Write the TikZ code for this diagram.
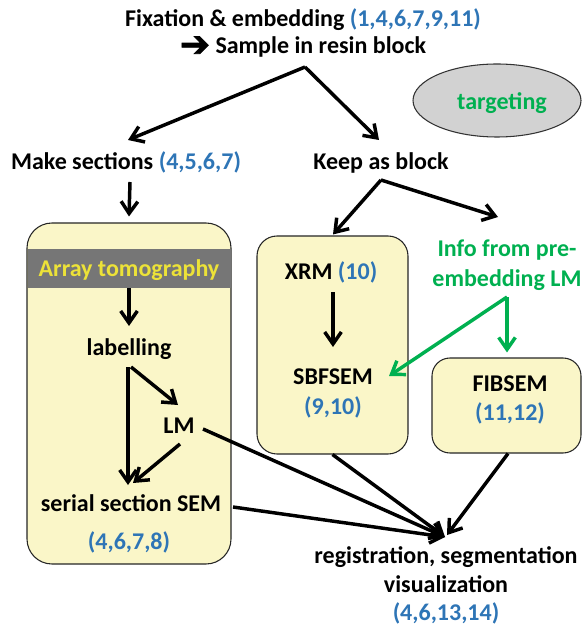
\documentclass[tikz,border=0pt]{standalone}
\usepackage{fontspec}
\setmainfont{Carlito}
\newfontfamily\symfont{DejaVu Sans}[FakeBold=2]
\usetikzlibrary{arrows.meta,shapes.geometric,calc}
\definecolor{blu}{RGB}{46,117,182}
\definecolor{grn}{RGB}{0,176,80}
\definecolor{yfill}{RGB}{250,246,200}
\definecolor{bandgray}{RGB}{118,118,118}
\definecolor{ytxt}{RGB}{236,226,56}
\definecolor{ellgray}{RGB}{210,210,210}
\begin{document}
\begin{tikzpicture}[x=0.75pt,y=-0.75pt,
  txt/.style={font=\fontsize{18}{20.5}\selectfont\bfseries, align=center, inner sep=0pt},
  one/.style={txt, text height=14.1pt, text depth=2.5pt},
  arr/.style={line width=2.6pt, draw=black, -{Straight Barb[length=9pt,width=12.5pt]}},
  garr/.style={arr, draw=grn},
  ybox/.style={draw=black!85, line width=0.8pt, fill=yfill}]
\useasboundingbox (0,0) rectangle (582,630);

% boxes
\node[ybox, rounded corners=18.75pt, minimum width=153pt, minimum height=255.75pt, inner sep=0pt] (boxA) at (129,393.5) {};
\node[ybox, rounded corners=15pt, minimum width=113.25pt, minimum height=163.5pt, inner sep=0pt] (boxB) at (332.5,345) {};
\node[ybox, rounded corners=13.5pt, minimum width=111.75pt, minimum height=71.25pt, inner sep=0pt] (boxC) at (506.5,405.5) {};
\node[one, fill=bandgray, text=ytxt, minimum width=152.25pt, minimum height=29.25pt] (band) at (129,268.5) {Array tomography};

% texts
\node[txt, font=\fontsize{18}{20.25}\selectfont\bfseries] (fix) at (303,33) {Fixation \& embedding \textcolor{blu}{(1,4,6,7,9,11)}\\\smash{\raisebox{-2.2pt}{\symfont\fontsize{27}{20}\selectfont\char"2794}} Sample in resin block};
\node[one] (make) at (126,162) {Make sections \textcolor{blu}{(4,5,6,7)}};
\node[one] (keep) at (381,162) {Keep as block};
\node[ellipse, draw=black!80, line width=0.8pt, fill=ellgray, minimum width=126pt, minimum height=54.75pt, inner sep=0pt] (tgt) at (497,100.5) {};
\node[one, text=grn] (tgtl) at (502,102) {targeting};
\node[one] (lab) at (129,348) {labelling};
\node[one] (lm) at (179,426) {LM};
\node[one] (sem) at (131,504) {serial section SEM};
\node[one, text=blu] (semref) at (129,542) {(4,6,7,8)};
\node[one] (xrm) at (331,272) {XRM \textcolor{blu}{(10)}};
\node[txt, font=\fontsize{18}{23}\selectfont\bfseries] (sbf) at (333,393.5) {SBFSEM\\\textcolor{blu}{(9,10)}};
\node[txt, text=grn, font=\fontsize{18}{22.5}\selectfont\bfseries] (info) at (507,265) {Info from pre-\\embedding LM};
\node[txt, font=\fontsize{18}{21.75}\selectfont\bfseries] (fib) at (510,399.5) {FIBSEM\\\textcolor{blu}{(11,12)}};
\node[txt, font=\fontsize{18}{21.4}\selectfont\bfseries] (reg) at (446,585.5) {registration, segmentation\\visualization\\\textcolor{blu}{(4,6,13,14)}};

% connectors
\coordinate (split) at (305,67);
\coordinate (conv) at ($(reg)+(-1,-48.5)$);
\draw[arr] (split) -- ($(make)+(2,-22)$);
\draw[arr] (split) -- ($(keep)+(-2,-22)$);
\draw[arr] ($(make)+(4,20)$) -- ($(boxA.north)+(0,-6)$);
\draw[arr] ($(keep)+(0,18)$) -- ($(boxB.north)+(0.5,-1)$);
\draw[arr] ($(keep)+(0,18)$) -- ($(info)+(-9,-48)$);
\draw[arr] (band.south) -- ($(lab)+(0,-22)$);
\draw[arr] ($(lab)+(2,19)$) -- ($(lm)+(-1,-21)$);
\draw[arr] ($(lab)+(-1,19)$) -- ($(sem)+(-3,-19)$);
\draw[arr] ($(lm)+(1,18)$) -- ($(sem)+(2,-21)$);
\draw[arr] ($(xrm)+(2,20)$) -- ($(sbf)+(0,-46.5)$);
\draw[garr] ($(info)+(0,32)$) -- ($(boxC.north)+(0.5,-5)$);
\draw[garr] ($(info)+(0,32)$) -- ($(sbf)+(56,-17.5)$);
\draw[arr] ($(lm)+(24,3)$) -- (conv);
\draw[arr] ($(sem)+(102,3)$) -- (conv);
\draw[arr] (boxB.south) -- (conv);
\draw[arr] ($(boxC.south)+(1.5,0)$) -- ($(conv)+(2,-2)$);
\end{tikzpicture}
\end{document}
